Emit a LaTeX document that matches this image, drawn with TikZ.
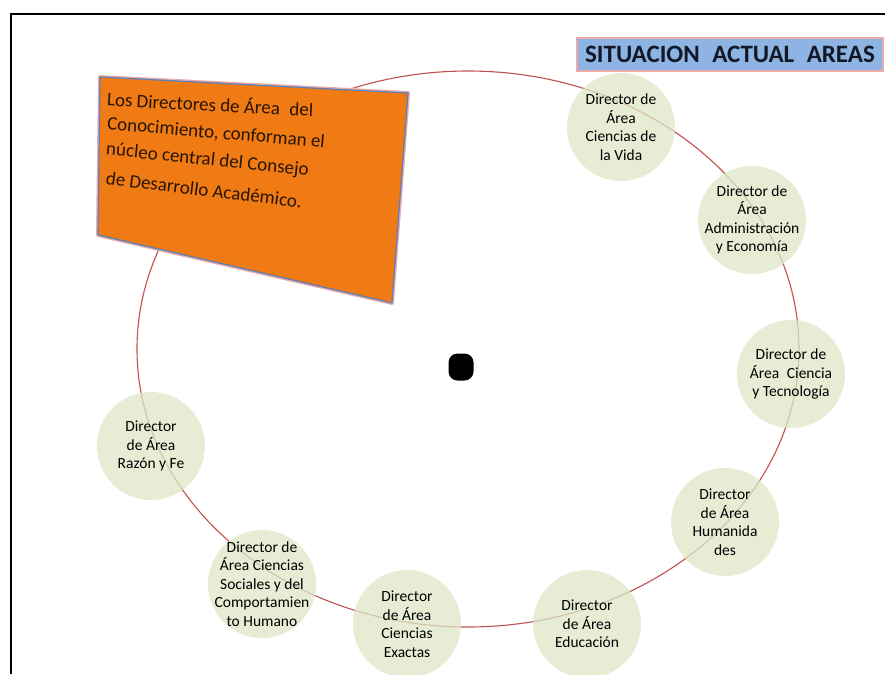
\documentclass[tikz,border=0pt]{standalone}
\usepackage{fontspec}
\setmainfont{Carlito}
\usetikzlibrary{positioning}
\definecolor{ringred}{RGB}{192,80,77}
\definecolor{areagreen}{RGB}{221,231,198}
\definecolor{notaorange}{RGB}{240,122,20}
\definecolor{notablue}{RGB}{84,130,190}
\definecolor{glowpink}{RGB}{236,170,170}
\definecolor{titleblue}{RGB}{141,180,226}
\definecolor{titleink}{RGB}{18,24,40}
\definecolor{notaink}{RGB}{40,22,5}

\tikzset{
  area/.style={circle,fill=areagreen,fill opacity=0.75,
    minimum size=108pt,inner sep=0pt},
  areatext/.style={align=center,inner sep=0pt,
    font=\fontsize{15.5}{18.5}\selectfont},
  notaline/.style={anchor=west,inner sep=0pt,text=notaink,
    font=\fontsize{19}{22}\selectfont},
}

\begin{document}
\begin{tikzpicture}[x=1pt,y=-1pt]
\useasboundingbox (0,0) rectangle (885,674);

% outer frame
\draw[line width=2.5pt] (11,674) -- (11,14) -- (885,14);

% ring of areas
\draw[ringred,line width=1.1pt] (468,349) ellipse [x radius=331pt,y radius=278pt];

\node[area,label={[areatext]center:Director de\\Área\\Ciencias de\\la Vida}] (vida) at (621,127) {};
\node[area,label={[areatext]center:Director de\\Área\\Administración\\y Economía}] (admin) at (752,220) {};
\node[area,label={[areatext]center:Director de\\Área\enspace Ciencia\\y Tecnología}] (tecno) at (791,374) {};
\node[area,label={[areatext]center:Director\\de Área\\Humanida\\des}] (human) at (725,522) {};
\node[area,label={[areatext]center:Director\\de Área\\Educación}] (educa) at (587,624) {};
\node[area,label={[areatext]center:Director\\de Área\\Ciencias\\Exactas}] (exact) at (407,624) {};
\node[area,label={[areatext]center:Director de\\Área Ciencias\\Sociales y del\\Comportamien\\to Humano}] (social) at (262,584) {};
\node[area,label={[areatext]center:Director\\de Área\\Razón y Fe}] (razon) at (151,446) {};

% central dot
\node[fill=black,rounded corners=9pt,minimum width=25pt,minimum height=27pt,
  inner sep=0pt] (centro) at (461,367) {};

% note on the directors
\draw[glowpink,line width=4pt,line join=round]
  (100,77) -- (408,93) -- (392,303) -- (98,235) -- cycle;
\draw[notablue,fill=notaorange,line width=1.2pt,line join=round]
  (100,77) -- (408,93) -- (392,303) -- (98,235) -- cycle;
\node[notaline,rotate=-3] (nota1) at (107,98) {Los Directores de Área\enspace del};
\node[notaline,rotate=-4.8] (nota2) at (107,124) {Conocimiento, conforman el};
\node[notaline,rotate=-5.8] (nota3) at (106,150) {núcleo central del Consejo};
\node[notaline,rotate=-6.8] (nota4) at (106,178) {de Desarrollo Académico.};

% title
\node[draw=glowpink,line width=1.2pt,fill=titleblue,text=titleink,
  minimum width=306pt,minimum height=33pt,inner sep=0pt,
  font=\fontsize{25}{27}\selectfont\bfseries] (titulo) at (730,54.5)
  {SITUACION\enspace ACTUAL\enspace AREAS};
\end{tikzpicture}
\end{document}
